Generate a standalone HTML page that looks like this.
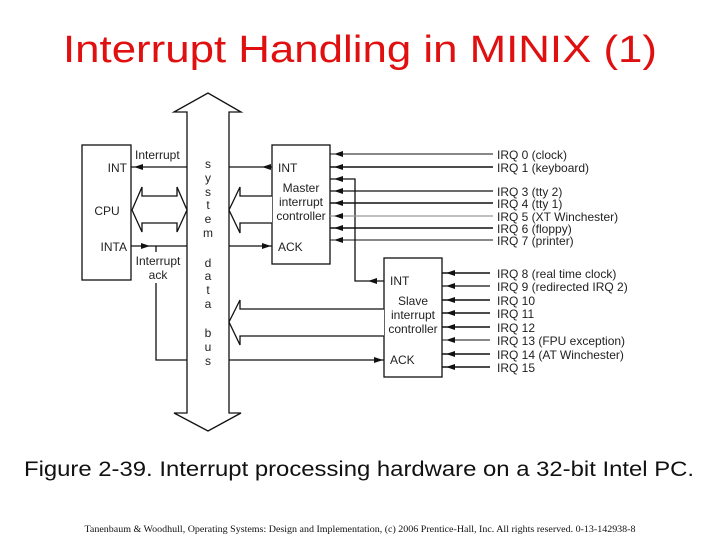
<!DOCTYPE html>
<html><head><meta charset="utf-8"><style>
html,body{margin:0;padding:0;background:#fff;width:720px;height:540px;overflow:hidden}
svg{display:block}
.t{font-family:"Liberation Sans",sans-serif;font-size:12px;fill:#222}
</style></head><body>
<svg width="720" height="540" viewBox="0 0 720 540" xmlns="http://www.w3.org/2000/svg">
<text x="360" y="62" text-anchor="middle" font-family="Liberation Sans,sans-serif" font-size="38" fill="#e01010" textLength="594" lengthAdjust="spacingAndGlyphs">Interrupt Handling in MINIX (1)</text>

<g stroke="#111" stroke-width="1.3" fill="none">
<!-- bus -->
<polygon fill="#fff" points="187,112 174,112 208,93 241,112 229,112 229,413 241,413 208,431 174,413 187,413"/>
<!-- boxes -->
<rect x="82" y="145" width="49" height="135"/>
<rect x="272" y="145" width="58" height="119"/>
<rect x="384" y="258" width="58" height="119"/>
<!-- CPU INT -->
<line x1="131" y1="167" x2="187" y2="167"/>
<!-- CPU double arrow -->
<polygon fill="#fff" points="132,210 142,187 142,196 177,196 177,187 187,210 177,232 177,223 142,223 142,232"/>
<!-- INTA -->
<line x1="131" y1="246" x2="187" y2="246"/>
<polyline points="156,246 156,252"/>
<polyline points="156,283 156,360 187,360"/>
<!-- master connections -->
<line x1="229" y1="167" x2="272" y2="167"/>
<line x1="229" y1="246" x2="272" y2="246"/>
<polyline fill="#fff" points="272,196 240,196 240,187 229,210 240,233 240,223 272,223"/>
<!-- slave connections -->
<polyline fill="#fff" points="384,309 240,309 240,300 229,322 240,345 240,336 384,336"/>
<line x1="229" y1="360" x2="384" y2="360"/>
<!-- cascade -->
<polyline points="330,179 355,179 355,281 384,281"/>
<!-- master IRQ lines -->
<line x1="330" y1="154" x2="493" y2="154" stroke-width="1"/>
<line x1="330" y1="167" x2="493" y2="167" stroke-width="1.6"/>
<line x1="330" y1="191" x2="493" y2="191"/>
<line x1="330" y1="203" x2="493" y2="203" stroke-width="1.6"/>
<line x1="330" y1="216" x2="493" y2="216" stroke="#999"/>
<line x1="330" y1="228" x2="493" y2="228" stroke-width="1.6"/>
<line x1="330" y1="240" x2="493" y2="240" stroke-width="1"/>
<!-- slave IRQ lines -->
<line x1="442" y1="273" x2="490" y2="273" stroke-width="1.6"/>
<line x1="442" y1="286" x2="490" y2="286"/>
<line x1="442" y1="300" x2="490" y2="300" stroke-width="1.6"/>
<line x1="442" y1="313" x2="490" y2="313" stroke-width="1.6"/>
<line x1="442" y1="327" x2="490" y2="327" stroke-width="1.6"/>
<line x1="442" y1="340" x2="490" y2="340" stroke-width="1"/>
<line x1="442" y1="354" x2="490" y2="354" stroke-width="1.6"/>
<line x1="442" y1="367" x2="490" y2="367" stroke-width="1.6"/>
</g>

<g fill="#111">
<polygon points="134,167 143,164 143,170"/>
<polygon points="150,246 141,243 141,249"/>
<polygon points="262,167 271,164 271,170"/>
<polygon points="271,246 262,243 262,249"/>
<polygon points="383,360 374,357 374,363"/>
<polygon points="368,281 377,278 377,284"/>
<polygon points="334,154 343,151 343,157"/>
<polygon points="334,167 343,164 343,170"/>
<polygon points="334,179 343,176 343,182"/>
<polygon points="334,191 343,188 343,194"/>
<polygon points="334,203 343,200 343,206"/>
<polygon points="334,216 343,213 343,219"/>
<polygon points="334,228 343,225 343,231"/>
<polygon points="334,240 343,237 343,243"/>
<polygon points="446,273 455,270 455,276"/>
<polygon points="446,286 455,283 455,289"/>
<polygon points="446,300 455,297 455,303"/>
<polygon points="446,313 455,310 455,316"/>
<polygon points="446,327 455,324 455,330"/>
<polygon points="446,340 455,337 455,343"/>
<polygon points="446,354 455,351 455,357"/>
<polygon points="446,367 455,364 455,370"/>
</g>

<g class="t">
<text x="135" y="159">Interrupt</text>
<text x="127" y="172" text-anchor="end">INT</text>
<text x="107" y="215" text-anchor="middle">CPU</text>
<text x="127" y="251" text-anchor="end">INTA</text>
<text x="158" y="265" text-anchor="middle">Interrupt</text>
<text x="158" y="279" text-anchor="middle">ack</text>
<g text-anchor="middle">
<text x="208" y="168">s</text><text x="208" y="182">y</text><text x="208" y="196">s</text>
<text x="208" y="209">t</text><text x="208" y="223">e</text><text x="208" y="237">m</text>
<text x="208" y="267">d</text><text x="208" y="280">a</text><text x="208" y="294">t</text><text x="208" y="308">a</text>
<text x="208" y="337">b</text><text x="208" y="351">u</text><text x="208" y="365">s</text>
<text x="301" y="192">Master</text><text x="301" y="206">interrupt</text><text x="301" y="220">controller</text>
<text x="413" y="305">Slave</text><text x="413" y="319">interrupt</text><text x="413" y="333">controller</text>
</g>
<text x="278" y="172">INT</text>
<text x="278" y="251">ACK</text>
<text x="390" y="285">INT</text>
<text x="390" y="364">ACK</text>
<text x="497" y="159">IRQ 0 (clock)</text>
<text x="497" y="172">IRQ 1 (keyboard)</text>
<text x="497" y="196">IRQ 3 (tty 2)</text>
<text x="497" y="208">IRQ 4 (tty 1)</text>
<text x="497" y="221">IRQ 5 (XT Winchester)</text>
<text x="497" y="233">IRQ 6 (floppy)</text>
<text x="497" y="245">IRQ 7 (printer)</text>
<text x="497" y="278">IRQ 8 (real time clock)</text>
<text x="497" y="291">IRQ 9 (redirected IRQ 2)</text>
<text x="497" y="305">IRQ 10</text>
<text x="497" y="318">IRQ 11</text>
<text x="497" y="332">IRQ 12</text>
<text x="497" y="345">IRQ 13 (FPU exception)</text>
<text x="497" y="359">IRQ 14 (AT Winchester)</text>
<text x="497" y="372">IRQ 15</text>
</g>

<text x="359" y="476" text-anchor="middle" font-family="Liberation Sans,sans-serif" font-size="21" fill="#111" textLength="670" lengthAdjust="spacingAndGlyphs">Figure 2-39. Interrupt processing hardware on a 32-bit Intel PC.</text>
<text x="360" y="532" text-anchor="middle" font-family="Liberation Serif,serif" font-size="9" fill="#111" textLength="551" lengthAdjust="spacingAndGlyphs">Tanenbaum &amp; Woodhull, Operating Systems: Design and Implementation, (c) 2006 Prentice-Hall, Inc. All rights reserved. 0-13-142938-8</text>
</svg>
</body></html>
